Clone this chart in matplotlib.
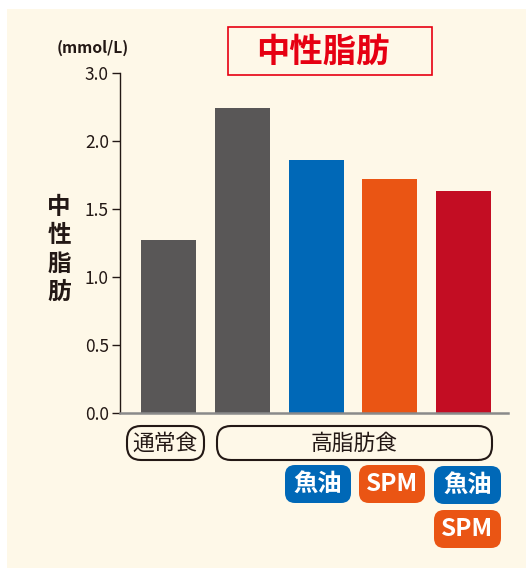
import matplotlib.pyplot as plt
from matplotlib.patches import FancyBboxPatch, Rectangle
from matplotlib.transforms import Affine2D
import numpy as np

plt.rcParams['font.family'] = ['Noto Sans CJK JP', 'DejaVu Sans']

groups = ['通常食', '高脂肪食', '魚油', 'SPM', '魚油+SPM']
values = [1.27, 2.24, 1.86, 1.72, 1.63]
colors = ['#595757', '#595757', '#0068b7', '#ea5514', '#c30d23']
tick_vals = [0.0, 0.5, 1.0, 1.5, 2.0, 2.5]
tick_labels = ['0.0', '0.5', '1.0', '1.5', '2.0', '3.0']

W, H = 526, 568
fig = plt.figure(figsize=(W / 100, H / 100), dpi=100, facecolor='white')
# pixel coordinates measured from the top-left corner
px = Affine2D().scale(1 / W, -1 / H).translate(0, 1) + fig.transFigure

fig.patches.append(Rectangle((7, 9), W - 7, H - 9, transform=px,
                             facecolor='#fef8e8', edgecolor='none', zorder=-5))

ax = fig.add_axes([120 / W, 155.3 / H, 388 / W, 339.7 / H])
ax.set_facecolor('none')
ax.set_zorder(2)

x = np.arange(len(values))
ax.bar(x, values, width=0.745, color=colors, zorder=2)

ax.set_xlim(-0.658, 4.603)
ax.set_ylim(0, 2.5)
ax.set_yticks(tick_vals)
ax.set_yticklabels(tick_labels)
ax.set_xticks([])
ax.tick_params(axis='y', direction='out', length=6, width=1, pad=2,
               labelsize=12.5, colors='#231815')
for s in ['top', 'right']:
    ax.spines[s].set_visible(False)
ax.spines['left'].set_color('#231815')
ax.spines['left'].set_linewidth(1.0)
ax.spines['bottom'].set_color('#8a8a8a')
ax.spines['bottom'].set_linewidth(1.8)

# title box
fig.patches.append(Rectangle((228, 27), 204, 48, transform=px, fill=False,
                             edgecolor='#e60012', linewidth=1.2))
fig.text(323 / W, 1 - 52 / H, '中性脂肪', color='#e60012', fontsize=24,
         fontweight='bold', ha='center', va='center')

fig.text(93 / W, 1 - 48 / H, '(mmol/L)', color='#231815', fontsize=11.3,
         fontweight='bold', ha='center', va='center')

for i, ch in enumerate('中性脂肪'):
    fig.text(59 / W, 1 - (207 + i * 28.3) / H, ch, color='#231815',
             fontsize=17, fontweight='bold', ha='center', va='center')


def outline_box(x0, y0, w, h, text):
    fig.patches.append(FancyBboxPatch((x0, y0), w, h, transform=px,
                                      boxstyle='round,pad=0,rounding_size=14',
                                      facecolor='none', edgecolor='#231815',
                                      linewidth=1.5))
    fig.text((x0 + w / 2) / W, 1 - (y0 + h / 2 + 1) / H, text,
             color='#231815', fontsize=15.7, ha='center', va='center')


def pill(x0, y0, w, h, text, color):
    fig.patches.append(FancyBboxPatch((x0, y0), w, h, transform=px,
                                      boxstyle='round,pad=0,rounding_size=10',
                                      facecolor=color, edgecolor='none'))
    fig.text((x0 + w / 2) / W, 1 - (y0 + h / 2) / H, text, color='white',
             fontsize=17.5, fontweight='bold', ha='center', va='center')


outline_box(127, 426, 77, 34, '通常食')
outline_box(217, 426, 275, 34, '高脂肪食')
pill(285, 465, 66, 38, '魚油', '#0068b7')
pill(359, 465, 66, 38, 'SPM', '#ea5514')
pill(434, 466, 67, 38, '魚油', '#0068b7')
pill(434, 510, 67, 38, 'SPM', '#ea5514')

fig.savefig('out.png', dpi=100, facecolor=fig.get_facecolor())
